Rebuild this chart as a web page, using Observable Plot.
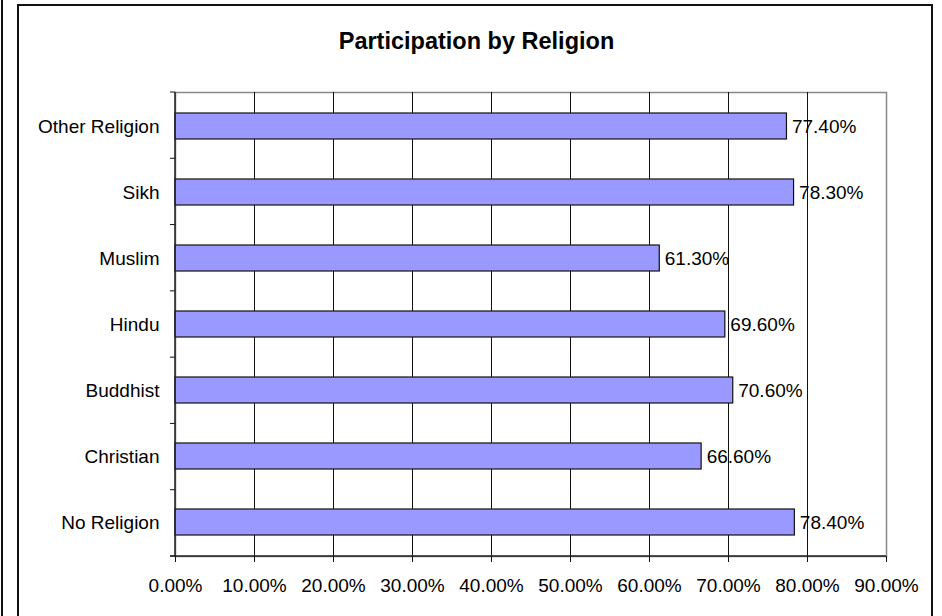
<!DOCTYPE html>
<html>
<head>
<meta charset="utf-8">
<script src="https://cdn.jsdelivr.net/npm/d3@7"></script>
<script src="https://cdn.jsdelivr.net/npm/@observablehq/plot@0.6"></script>
<style>
  html, body { margin: 0; padding: 0; background: #fff; }
  #wrap { position: relative; width: 942px; height: 616px; overflow: hidden; font-family: "Liberation Sans", Arial, sans-serif; }
  #frame { position: absolute; left: 17px; top: 4px; width: 912px; height: 640px; border: 2px solid #111; }
  #side { position: absolute; left: 1px; top: 0; width: 2px; height: 616px; background: #111; }
  #title { position: absolute; left: 0; width: 953px; top: 28px; text-align: center; font-weight: bold; font-size: 23.5px; color: #000; }
  #chart { position: absolute; left: 0; top: 0; }
</style>
</head>
<body>
<div id="wrap">
  <div id="side"></div>
  <div id="frame"></div>
  <div id="chart"></div>
  <div id="title">Participation by Religion</div>
</div>
<script>
const religions = ["Other Religion", "Sikh", "Muslim", "Hindu", "Buddhist", "Christian", "No Religion"];
const participation = [77.4, 78.3, 61.3, 69.6, 70.6, 66.6, 78.4];
const xTicks = [0, 10, 20, 30, 40, 50, 60, 70, 80, 90];

const data = religions.map((r, i) => ({religion: r, value: participation[i]}));
const pct = d => d.toFixed(2) + "%";

const axisLines = (index, scales, values, dims, context) => {
  const g = d3.create("svg:g");
  const left = dims.marginLeft, right = dims.width - dims.marginRight;
  const top = dims.marginTop, bottom = dims.height - dims.marginBottom;
  const n = religions.length;
  for (let k = 0; k <= n; k++) {
    const y = top + k * (bottom - top) / n;
    g.append("line").attr("x1", left - 5).attr("x2", left).attr("y1", y).attr("y2", y)
      .attr("stroke", "#111").attr("stroke-width", 1);
  }
  g.append("line").attr("x1", left).attr("x2", left).attr("y1", top).attr("y2", bottom + 1)
    .attr("stroke", "#222").attr("stroke-width", 1.5);
  g.append("line").attr("x1", left - 5).attr("x2", right).attr("y1", bottom).attr("y2", bottom)
    .attr("stroke", "#222").attr("stroke-width", 1.5);
  return g.node();
};

const chart = Plot.plot({
  width: 942,
  height: 616,
  marginLeft: 175,
  marginRight: 56,
  marginTop: 92,
  marginBottom: 60,
  style: {fontFamily: "Liberation Sans, Arial, sans-serif", fontSize: "19px", color: "#000", background: "transparent"},
  x: {domain: [0, 90], ticks: xTicks, tickFormat: pct},
  y: {domain: religions, paddingInner: 0.6, paddingOuter: 0.3},
  marks: [
    Plot.frame({stroke: "#888", strokeWidth: 1.5}),
    Plot.gridX(xTicks.slice(1, -1), {stroke: "#111", strokeOpacity: 1, strokeWidth: 1}),
    Plot.barX(data, {x: "value", y: "religion", fill: "#9999FF", stroke: "#111", strokeWidth: 1.2}),
    Plot.text(data, {x: "value", y: "religion", text: d => pct(d.value), textAnchor: "start", dx: 5, fill: "#000"}),
    Plot.axisY({tickSize: 0, tickPadding: 16, label: null, fill: "#000"}),
    Plot.axisX(xTicks, {tickSize: 6, tickPadding: 16, tickFormat: pct, label: null, stroke: "#111", fill: "#000"}),
    axisLines
  ]
});
document.getElementById("chart").appendChild(chart);
</script>
</body>
</html>
